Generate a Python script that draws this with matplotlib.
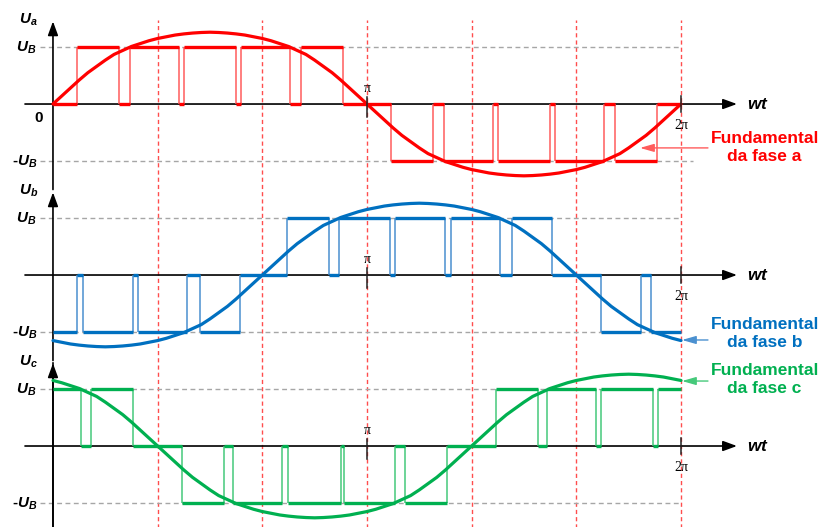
import numpy as np
import matplotlib.pyplot as plt

plt.rcParams['font.family'] = 'Liberation Sans'
plt.rcParams['mathtext.fontset'] = 'custom'
plt.rcParams['mathtext.it'] = 'Liberation Sans:italic:bold'
plt.rcParams['mathtext.rm'] = 'Liberation Sans:bold'

phases = ['a', 'b', 'c']
colors = {'a': '#FF0000', 'b': '#0070C0', 'c': '#00B050'}
light = {'a': '#FF5C5C', 'b': '#4A90D0', 'c': '#45C97A'}
offsets = {'a': 0.0, 'b': -3.0, 'c': -6.0}

# switching angles (deg) and the level held after each switch (in U_B)
sw_a = [0, 14, 38, 44, 72, 75, 105, 108, 136, 142, 166, 194, 218, 224, 252, 255, 285, 288, 316, 322, 346, 360]
lv_a = [0, 1, 0, 1, 0, 1, 0, 1, 0, 1, 0, -1, 0, -1, 0, -1, 0, -1, 0, -1, 0]
sw_b = [0, 14, 17, 46, 49, 77, 84, 107, 134, 158, 164, 193, 196, 225, 228, 256, 263, 286, 314, 337, 343, 360]
lv_b = [-1, 0, -1, 0, -1, 0, -1, 0, 1, 0, 1, 0, 1, 0, 1, 0, 1, 0, -1, 0, -1]
sw_c = [0, 16, 22, 46, 74, 98, 103, 131, 135, 165, 167, 196, 202, 226, 254, 278, 283, 311, 314, 344, 347, 360]
lv_c = [1, 0, 1, 0, -1, 0, -1, 0, -1, 0, -1, 0, -1, 0, 1, 0, 1, 0, 1, 0, 1]
switches = {'a': (sw_a, lv_a), 'b': (sw_b, lv_b), 'c': (sw_c, lv_c)}

# fundamental of phase a, quarter wave every 5 deg (in U_B)
fund_step = 5
fund_q = [0, 0.14, 0.28, 0.42, 0.55, 0.66, 0.77, 0.87, 0.94, 1.01,
          1.06, 1.11, 1.15, 1.18, 1.21, 1.23, 1.245, 1.255, 1.26]
phase_lag = {'a': 0, 'b': 120, 'c': 240}

half = fund_q + fund_q[-2::-1]
fund_a = np.array(half + [-v for v in half[1:]])
fund_deg = np.arange(len(fund_a)) * fund_step

fig = plt.figure(figsize=(8.22, 5.27), dpi=100)
ax = fig.add_axes([0, 0, 1, 1])
ax.set_xlim(-0.530, 7.694)
ax.set_ylim(-7.421, 1.825)
ax.axis('off')

# sector boundaries every 60 deg
for k in range(1, 7):
    ax.plot([k * np.pi / 3] * 2, [-7.5, 1.47], color='#FF4D4D', lw=1.0,
            dashes=(3, 2.2), zorder=1)

# shared vertical axis with one arrow per phase
ax.plot([0, 0], [-7.5, -6 + 1.45], color='k', lw=1.2, zorder=2)
for p in phases:
    y0 = offsets[p]
    ax.annotate('', xy=(0, y0 + 1.45), xytext=(0, y0 - 1.5),
                arrowprops=dict(arrowstyle='-|>,head_length=0.6,head_width=0.22',
                                mutation_scale=14, color='k', lw=1.2,
                                shrinkA=0, shrinkB=0), zorder=2)

for p in phases:
    y0 = offsets[p]
    c = colors[p]

    # U_B reference levels
    xend_neg = 6.40 if p == 'a' else 2 * np.pi
    ax.plot([-0.13, 2 * np.pi], [y0 + 1, y0 + 1], color='#A6A6A6', lw=1.0,
            dashes=(3.5, 2.5), zorder=1)
    ax.plot([-0.13, xend_neg], [y0 - 1, y0 - 1], color='#A6A6A6', lw=1.0,
            dashes=(3.5, 2.5), zorder=1)

    # wt axis
    ax.annotate('', xy=(6.843, y0), xytext=(-0.28, y0),
                arrowprops=dict(arrowstyle='-|>,head_length=0.6,head_width=0.22',
                                mutation_scale=14, color='k', lw=1.2,
                                shrinkA=0, shrinkB=0), zorder=2)

    # PWM voltage
    sw, lv = switches[p]
    xs = np.deg2rad(sw)
    lv = np.array(lv, dtype=float)
    ax.hlines(y0 + lv, xs[:-1], xs[1:], color=c, lw=2.4, zorder=4)
    ax.vlines(xs[1:-1], y0 + lv[:-1], y0 + lv[1:], color=light[p], lw=1.1, zorder=3)

    # fundamental
    shift = phase_lag[p] // fund_step
    core = np.roll(fund_a[:-1], shift)
    fund = np.append(core, core[0])
    ax.plot(np.deg2rad(fund_deg), y0 + fund, color=c, lw=2.3, zorder=5,
            solid_capstyle='round')

    # pi and 2pi ticks
    ax.plot([np.pi, np.pi], [y0 + 0.12, y0 - 0.22], color='#222222', lw=1.1, zorder=6)
    ax.plot([2 * np.pi, 2 * np.pi], [y0 + 0.14, y0 - 0.14], color='#222222', lw=1.1, zorder=6)
    ax.text(np.pi, y0 + 0.27, 'π', family='Liberation Serif', fontsize=10,
            ha='center', va='center', zorder=6)
    ax.text(2 * np.pi, y0 - 0.38, '2π', family='Liberation Serif', fontsize=10,
            ha='center', va='center', zorder=6)

    ax.text(7.05, y0, r'$wt$', fontsize=12.5, ha='center', va='center')
    ax.text(-0.245, y0 + 1.47, r'$U_%s$' % p, fontsize=11, ha='center', va='center')
    ax.text(-0.17, y0 + 0.98, r'$U_B$', fontsize=11, ha='right', va='center')
    ax.text(-0.16, y0 - 1.02, r'-$U_B$', fontsize=11, fontweight='bold',
            ha='right', va='center')

ax.text(-0.14, -0.25, r'$0$', fontsize=11, ha='center', va='center')

# fundamental call-outs
callouts = {'a': (5.873, -0.77, -0.77), 'b': (6.293, -4.14, -4.03), 'c': (6.293, -4.86, -4.84)}
for p in phases:
    xt, ya, yt = callouts[p]
    ax.annotate('', xy=(xt, ya), xytext=(6.553, ya),
                arrowprops=dict(arrowstyle='-|>,head_length=0.7,head_width=0.2',
                                mutation_scale=12, color=light[p], lw=1.0,
                                shrinkA=0, shrinkB=0), zorder=6)
    ax.text(7.12, yt, 'Fundamental\nda fase %s' % p, color=colors[p], fontsize=12.5,
            fontweight='bold', ha='center', va='center', linespacing=1.25)

fig.savefig('out.png', dpi=100)
